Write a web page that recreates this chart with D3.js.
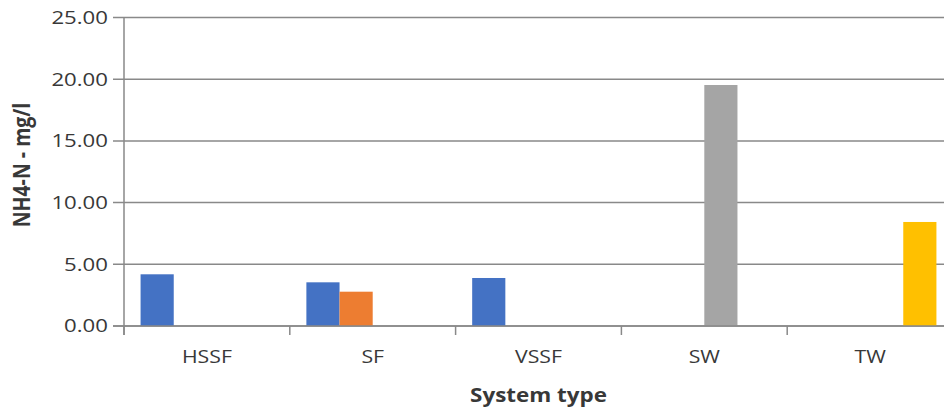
<!DOCTYPE html>
<html>
<head>
<meta charset="utf-8">
<script src="https://cdn.jsdelivr.net/npm/d3@7/dist/d3.min.js"></script>
<style>
  html, body { margin: 0; padding: 0; background: #fff; }
  svg { display: block; }
  text { font-family: "Open Sans", "Noto Sans", sans-serif; fill: #383838; }
</style>
</head>
<body>
<svg id="chart" width="944" height="412"></svg>
<script>
// ---- data ----
const categories = ["HSSF", "SF", "VSSF", "SW", "TW"];
const seriesNames = ["Series 1", "Series 2", "Series 3", "Series 4"];
const series1 = [4.19, 3.54, 3.89, null, null];
const series2 = [null, 2.78, null, null, null];
const series3 = [null, null, null, 19.53, null];
const series4 = [null, null, null, null, 8.43];
const yTicks = [0, 5, 10, 15, 20, 25];
const xTitle = "System type";
const yTitle = "NH4-N - mg/l";
const colors = ["#4472C4", "#ED7D31", "#A5A5A5", "#FFC000"];

(function () {
const allSeries = [series1, series2, series3, series4];

// ---- layout ----
const svg = d3.select("#chart");
const pL = 124, pR = 953, pT = 17.5, pB = 326;
const sx = 1.15; // horizontal text stretch

const x = d3.scaleBand().domain(categories).range([pL, pR]).paddingInner(0).paddingOuter(0);
const y = d3.scaleLinear().domain([0, 25]).range([pB, pT]);

const gridColor = "#898989";

// gridlines + y tick marks
svg.append("g").selectAll("line").data(yTicks).join("line")
  .attr("x1", pL - 11).attr("x2", pR)
  .attr("y1", d => y(d)).attr("y2", d => y(d))
  .attr("stroke", gridColor).attr("stroke-width", 1.5);

// bars (Excel-like gap width 100%)
const barW = x.bandwidth() / (seriesNames.length + 1);
const g = svg.append("g");
allSeries.forEach((vals, si) => {
  g.selectAll(null).data(vals.map((v, i) => ({ v, c: categories[i] })).filter(d => d.v != null))
    .join("rect")
    .attr("x", d => x(d.c) + barW / 2 + si * barW)
    .attr("width", barW)
    .attr("y", d => y(d.v))
    .attr("height", d => y(0) - y(d.v))
    .attr("fill", colors[si]);
});

// y axis line
svg.append("line")
  .attr("x1", pL).attr("x2", pL).attr("y1", y(25)).attr("y2", pB + 9)
  .attr("stroke", gridColor).attr("stroke-width", 1.5);
// x axis line
svg.append("line")
  .attr("x1", pL - 11).attr("x2", pR).attr("y1", pB).attr("y2", pB)
  .attr("stroke", gridColor).attr("stroke-width", 1.5);
// x tick marks at band boundaries
const bounds = categories.map(c => x(c)).concat([pR]);
svg.append("g").selectAll("line").data(bounds).join("line")
  .attr("x1", d => d).attr("x2", d => d)
  .attr("y1", pB).attr("y2", pB + 9)
  .attr("stroke", gridColor).attr("stroke-width", 1.5);

// y tick labels
svg.append("g").selectAll("text").data(yTicks).join("text")
  .attr("transform", d => `translate(108,${y(d)}) scale(${sx + 0.05},1)`)
  .attr("text-anchor", "end")
  .attr("dy", "0.35em")
  .style("font-size", "18.5px")
  .text(d => d3.format(".2f")(d));

// x category labels
svg.append("g").selectAll("text").data(categories).join("text")
  .attr("transform", d => `translate(${x(d) + x.bandwidth() / 2},363) scale(${sx},1)`)
  .attr("text-anchor", "middle")
  .style("font-size", "18.5px")
  .text(d => d);

// x title
svg.append("text")
  .attr("transform", `translate(${(pL + pR) / 2},402) scale(${sx},1)`)
  .attr("text-anchor", "middle")
  .style("font-size", "19.5px").style("font-weight", "bold")
  .text(xTitle);

// y title
svg.append("text")
  .attr("transform", `translate(30,165) scale(${sx},1) rotate(-90)`)
  .attr("text-anchor", "middle")
  .style("font-size", "19.5px").style("font-weight", "bold")
  .text(yTitle);
})();
</script>
</body>
</html>
